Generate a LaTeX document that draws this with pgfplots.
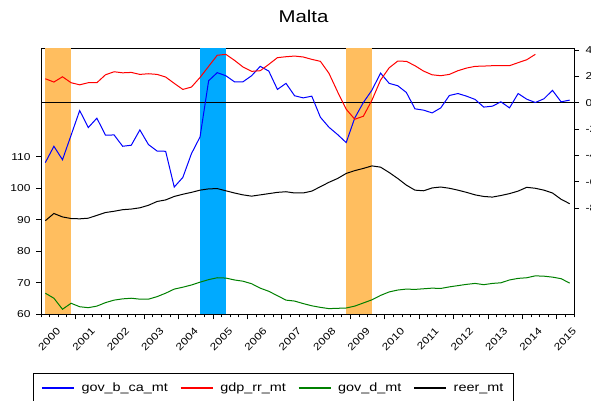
\documentclass[border=0pt]{standalone}
\usepackage{fontspec}
\setmainfont{Liberation Sans}[FakeStretch=1.2]
\usepackage{pgfplots}
\usepackage{pgfplotstable}
\pgfplotsset{compat=1.18}

\definecolor{bandorange}{RGB}{255,190,95}
\definecolor{bandblue}{RGB}{0,170,255}
\definecolor{sergreen}{RGB}{0,128,0}
\definecolor{serblue}{RGB}{0,0,255}
\definecolor{serred}{RGB}{255,0,0}

% quarterly observations, q = 0 is 2000Q1
\pgfplotstableread{
q  govbca  gdprr  govd   reer
0  -4.54   1.82   66.7   89.7
1  -3.30   1.57   65.1   92.0
2  -4.32   1.97   61.6   90.9
3  -2.46   1.52   63.5   90.4
4  -0.59   1.36   62.4   90.3
5  -1.88   1.52   62.1   90.5
6  -1.17   1.52   62.6   91.4
7  -2.46   2.12   63.7   92.3
8  -2.44   2.35   64.5   92.7
9  -3.30   2.27   64.9   93.2
10 -3.22   2.30   65.1   93.4
11 -2.06   2.15   64.8   93.8
12 -3.17   2.20   64.8   94.6
13 -3.66   2.15   65.6   95.8
14 -3.68   1.95   66.7   96.3
15 -6.39   1.47   68.0   97.4
16 -5.66   1.01   68.6   98.1
17 -3.86   1.19   69.3   98.7
18 -2.59   1.92   70.2   99.4
19  1.67   2.76   71.0   99.8
20  2.28   3.60   71.6   99.9
21  2.05   3.67   71.5   99.2
22  1.59   3.22   70.9   98.5
23  1.59   2.71   70.5   97.9
24  2.05   2.38   69.7   97.5
25  2.76   2.43   68.3   97.9
26  2.40   2.91   67.3   98.3
27  1.01   3.42   65.9   98.7
28  1.47   3.49   64.5   98.9
29  0.53   3.54   64.2   98.5
30  0.37   3.47   63.4   98.5
31  0.50   3.29   62.7   99.1
32 -1.10   3.14   62.2  100.5
33 -1.86   2.23   61.8  101.9
34 -2.41   0.83   61.9  103.1
35 -3.02  -0.49   62.0  104.7
36 -1.15  -1.25   62.6  105.6
37  0.02  -1.02   63.6  106.3
38  0.96   0.20   64.6  107.1
39  2.25   1.72   66.0  106.7
40  1.47   2.65   67.1  105.0
41  1.29   3.16   67.7  103.1
42  0.78   3.14   68.0  101.0
43 -0.46   2.81   67.9   99.4
44 -0.56   2.40   68.1   99.2
45 -0.77   2.12   68.3  100.1
46 -0.39   2.05   68.2  100.4
47  0.55   2.15   68.7  100.0
48  0.70   2.43   69.1   99.4
49  0.50   2.63   69.5   98.7
50  0.25   2.76   69.8   97.9
51 -0.33   2.78   69.4   97.4
52 -0.26   2.81   69.8   97.2
53  0.07   2.81   70.0   97.7
54 -0.39   2.81   70.9   98.3
55  0.70   3.04   71.4   99.1
56  0.27   3.26   71.6  100.3
57  0.02   3.67   72.2  100.0
58  0.30   nan    72.1   99.4
59  0.94   nan    71.8   98.5
60  0.07   nan    71.3   96.5
61  0.20   nan    69.9   95.1
}\malta

\pgfplotsset{
  maltabase/.style={
    at={(41pt,86.7pt)}, anchor=south west,
    scale only axis, width=533pt, height=265.3pt,
    xmin=-0.5, xmax=61.5,
    tick align=outside,
    tick style={black, line width=0.8pt},
    axis line style={line width=1pt},
    tick label style={font=\fontsize{10}{12}\selectfont},
    /pgf/number format/assume math mode=true,
    unbounded coords=jump,
  },
}

\begin{document}
\begin{tikzpicture}
\useasboundingbox (0,0) rectangle (591pt,401pt);

% left scale: debt and effective exchange rate, with the shaded periods
\begin{axis}[
  maltabase,
  ymin=60, ymax=144.2,
  xtick={3.5,7.5,...,59.5}, xticklabels={},
  minor xtick={-0.5,0.5,...,61.5},
  ytick={60,70,...,110},
  yticklabel style={xshift=-2pt},
  xtick pos=bottom, ytick pos=left,
  major tick length=5pt, minor tick length=3pt,
]
\addplot[fill=bandorange, draw=none] coordinates {(0,50) (0,150) (3,150) (3,50)} -- cycle;
\addplot[fill=bandblue, draw=none] coordinates {(18,50) (18,150) (21,150) (21,50)} -- cycle;
\addplot[fill=bandorange, draw=none] coordinates {(35,50) (35,150) (38,150) (38,50)} -- cycle;
\addplot[sergreen, line width=1pt] table[x=q, y=govd] {\malta};
\addplot[black, line width=1pt] table[x=q, y=reer] {\malta};
\end{axis}

% right scale: budget balance and growth
\begin{axis}[
  maltabase,
  ymin=-16.04, ymax=4.076,
  axis y line*=right, axis x line*=bottom,
  xtick={1.5,5.5,...,61.5},
  xticklabels={2000,2001,2002,2003,2004,2005,2006,2007,2008,2009,2010,2011,2012,2013,2014,2015},
  x tick style={draw=none},
  xticklabel style={xshift=3pt, yshift=-8pt, rotate=45, anchor=east},
  ytick={-8,-6,...,4}, yticklabels={-8,-6,-4,-2,0,2,4},
  yticklabel style={xshift=3pt},
  major tick length=5pt,
  title={Malta},
  title style={font=\fontsize{17}{20}\selectfont, at={(axis description cs:0.4925,1)}, anchor=base, yshift=20pt},
  legend columns=4,
  legend style={at={(axis description cs:-0.015,-0.2224)}, anchor=north west,
    inner xsep=8pt, inner ysep=7.5pt,
    font=\fontsize{12}{14}\selectfont,
    /tikz/every odd column/.append style={column sep=5pt},
    /tikz/every even column/.append style={column sep=10pt}},
  legend image code/.code={\draw[#1, line width=1.3pt] (0pt,0pt) -- (32pt,0pt);},
]
\addplot[black, line width=0.8pt, forget plot] coordinates {(-0.5,0) (61.5,0)};
\addplot[serblue, line width=1pt] table[x=q, y=govbca] {\malta};
\addlegendentry{gov\_b\_ca\_mt}
\addplot[serred, line width=1pt] table[x=q, y=gdprr] {\malta};
\addlegendentry{gdp\_rr\_mt}
\addlegendimage{sergreen, line width=1pt}
\addlegendentry{gov\_d\_mt}
\addlegendimage{black, line width=1pt}
\addlegendentry{reer\_mt}
\end{axis}
\end{tikzpicture}
\end{document}
